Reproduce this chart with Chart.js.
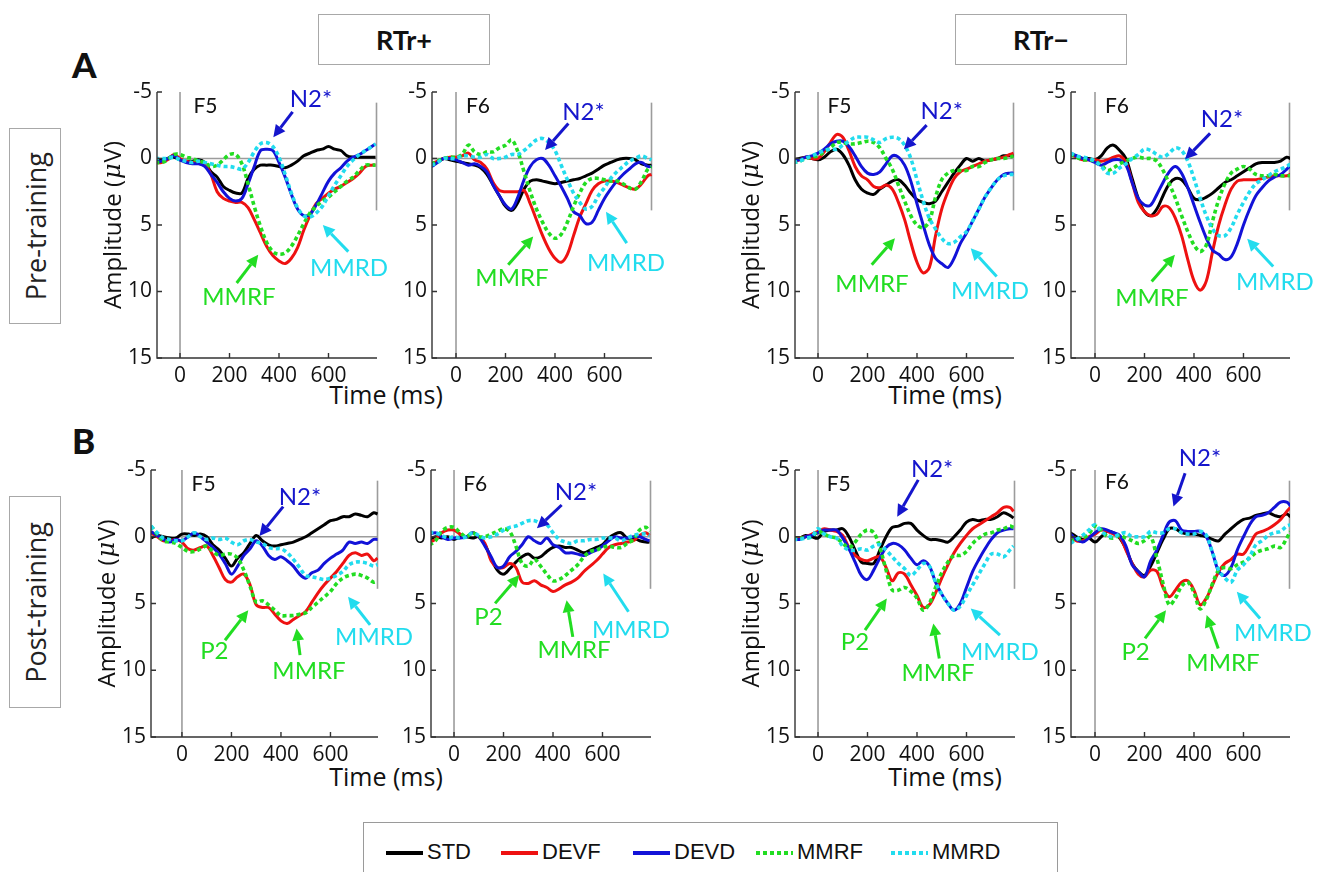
<!DOCTYPE html>
<html><head><meta charset="utf-8">
<script src="https://cdn.jsdelivr.net/npm/chart.js@4.4.1/dist/chart.umd.min.js"></script>
<style>
html,body{margin:0;padding:0;background:#fff}
body{width:1320px;height:872px;position:relative;overflow:hidden;font-family:Lato,'Open Sans',sans-serif;color:#111}
.abs{position:absolute}
canvas{position:absolute}
.hbox{position:absolute;border:1.5px solid #a8a8a8;display:flex;align-items:center;justify-content:center;font-weight:bold;font-size:27px;font-family:Lato,sans-serif;box-sizing:border-box}
.vbox{position:absolute;border:1.5px solid #a8a8a8;display:flex;align-items:center;justify-content:center;box-sizing:border-box}
.vbox span{writing-mode:vertical-rl;transform:rotate(180deg);font-family:'Open Sans',sans-serif;font-size:27px;color:#222}
.tlabel{position:absolute;width:200px;text-align:center;font-family:'Open Sans',sans-serif;font-size:25px;color:#111;line-height:30px}
.leg{position:absolute;left:363px;top:822px;width:695px;height:58px;border:1.5px solid #9a9a9a;box-sizing:border-box}
.li{position:absolute;top:28px;height:4px}
.lt{position:absolute;top:16px;font-family:'Liberation Sans Narrow','Liberation Sans',sans-serif;font-size:22px;line-height:26px;color:#111}
</style></head><body>
<script>
// ---------------- data ----------------
const TIME = [-125,-100,-75,-50,-25,0,25,50,75,100,125,150,175,200,225,250,275,300,325,350,375,400,425,450,475,500,525,550,575,600,625,650,675,700,725,750,775,790];
const SERIES = ['STD','DEVF','DEVD','MMRF','MMRD'];
const X_TICKS = [0,200,400,600];
const Y_TICKS = [-5,0,5,10,15];

// Pre-training, RTr+, F5
const pre_rp_f5_STD  = [0.2,0.2,0.1,0.0,-0.1,0.1,0.2,0.2,0.1,0.3,1.0,1.4,2.1,2.4,2.6,2.6,1.5,0.8,0.5,0.5,0.5,0.6,0.7,0.5,0.2,-0.2,-0.4,-0.6,-0.7,-0.9,-0.7,-0.6,-0.2,-0.1,-0.1,-0.1,-0.1,-0.1];
const pre_rp_f5_DEVF = [0.3,0.3,0.3,0.1,-0.3,0.0,0.2,0.3,0.3,0.4,1.2,2.5,3.0,3.2,3.3,3.3,3.7,4.6,5.6,6.6,7.3,7.7,7.9,7.5,6.7,5.4,4.3,3.4,3.0,2.6,2.3,2.1,1.8,1.5,1.1,0.6,0.5,0.5];
const pre_rp_f5_DEVD = [0.3,0.3,0.2,0.0,-0.2,0.1,0.3,0.4,0.4,0.6,1.2,1.8,2.5,3.0,3.2,3.0,1.9,0.6,-0.6,-0.7,-0.6,0.3,1.4,2.7,3.8,4.3,4.2,3.5,2.6,1.7,1.1,0.7,0.2,-0.1,-0.3,-0.6,-0.9,-1.1];
const pre_rp_f5_MMRF = [0.3,0.3,0.3,0.1,-0.3,-0.3,-0.1,0.0,0.2,0.3,0.6,0.5,0.1,-0.3,-0.3,0.4,1.9,3.6,5.1,6.3,7.0,7.2,7.1,6.6,5.8,4.9,4.1,3.6,3.2,2.9,2.5,2.1,1.7,1.4,0.9,0.5,0.5,0.5];
const pre_rp_f5_MMRD = [0.0,0.0,0.0,0.0,-0.1,0.1,0.2,0.3,0.2,0.3,0.4,0.5,0.6,0.6,0.7,0.8,0.3,-0.5,-1.1,-1.2,-0.9,-0.1,1.2,2.6,3.7,4.3,4.4,4.1,3.6,2.8,2.0,1.3,0.6,0.1,-0.3,-0.6,-0.9,-1.1];
// Pre-training, RTr+, F6
const pre_rp_f6_STD  = [0.5,0.5,0.3,0.0,0.1,0.2,0.3,0.4,0.5,0.7,1.2,2.0,2.8,3.6,3.9,3.3,2.3,1.7,1.6,1.7,1.8,1.9,1.8,1.7,1.6,1.5,1.3,1.1,0.8,0.5,0.3,0.1,0.0,0.0,0.1,0.4,0.5,0.5];
const pre_rp_f6_DEVF = [0.4,0.4,0.2,0.0,-0.1,-0.1,-0.2,-0.4,0.1,0.3,0.8,1.8,2.4,2.5,2.5,2.5,2.4,3.4,4.6,5.8,6.8,7.5,7.8,7.2,5.8,4.4,3.4,2.4,1.9,1.7,1.7,1.8,2.0,2.2,2.3,1.9,1.3,1.2];
const pre_rp_f6_DEVD = [0.6,0.6,0.3,0.0,0.0,0.1,0.3,0.5,0.4,0.6,1.0,2.0,2.8,3.5,3.8,2.9,1.6,0.6,0.1,0.0,0.5,1.3,2.1,3.0,4.0,4.3,4.9,4.8,3.9,3.0,2.3,1.7,1.2,0.8,0.4,0.3,0.6,0.6];
const pre_rp_f6_MMRF = [0.4,0.4,0.2,0.0,-0.1,-0.1,-0.3,-1.0,-0.5,-0.3,-0.5,-0.5,-0.8,-1.0,-1.4,-0.5,1.0,2.5,3.8,4.8,5.6,6.0,5.7,4.8,3.6,2.6,1.8,1.5,1.5,1.6,1.7,1.7,1.9,2.2,2.3,1.7,0.8,0.6];
const pre_rp_f6_MMRD = [0.5,0.5,0.3,0.0,0.0,0.0,-0.2,-0.2,-0.1,-0.1,-0.3,0.0,0.0,-0.1,-0.3,-0.3,-0.6,-1.0,-1.4,-1.5,-1.2,-0.6,0.5,1.6,2.6,3.3,3.8,3.6,2.8,2.2,1.5,1.0,0.6,0.2,0.0,-0.2,0.0,0.1];
// Pre-training, RTr-, F5
const pre_rm_f5_STD  = [0.1,0.1,0.0,-0.1,0.0,0.1,-0.1,-0.5,-0.7,-0.3,0.5,1.6,2.3,2.6,2.7,2.3,2.0,1.7,1.6,2.0,2.6,3.1,3.3,3.4,3.2,2.5,1.8,1.1,0.5,0.0,0.2,0.0,0.2,0.1,0.0,-0.2,-0.2,-0.2];
const pre_rm_f5_DEVF = [0.2,0.2,0.1,-0.1,0.0,0.0,-0.5,-1.2,-1.8,-1.6,-0.6,0.6,1.3,1.6,2.1,2.2,2.0,2.3,3.3,4.6,6.3,7.8,8.6,8.2,5.8,3.8,2.5,1.5,1.0,0.8,0.6,0.4,0.2,0.1,0.0,-0.1,-0.3,-0.4];
const pre_rm_f5_DEVD = [0.1,0.1,0.1,-0.1,-0.2,-0.4,-0.7,-1.1,-1.3,-1.3,-0.9,-0.2,0.6,1.1,1.2,1.0,0.4,-0.2,-0.1,0.5,1.7,3.4,5.0,6.5,7.5,7.9,8.2,7.5,6.4,5.6,4.7,3.8,2.9,2.2,1.6,1.2,1.1,1.1];
const pre_rm_f5_MMRF = [0.3,0.3,0.2,0.0,-0.1,-0.2,-0.5,-0.8,-1.2,-1.2,-1.1,-1.1,-1.2,-1.3,-1.2,-0.8,0.0,0.8,2.0,3.2,4.3,5.0,5.2,4.7,2.9,1.6,1.1,0.9,0.9,0.9,0.6,0.6,0.3,0.1,0.0,0.0,-0.1,-0.2];
const pre_rm_f5_MMRD = [0.3,0.3,0.2,0.0,-0.2,-0.4,-0.6,-0.7,-0.7,-1.0,-1.3,-1.6,-1.6,-1.6,-1.4,-1.2,-1.5,-1.6,-1.5,-1.0,0.0,1.6,3.2,4.5,5.3,6.0,6.4,6.3,5.9,5.5,4.7,3.8,2.9,2.2,1.6,1.3,1.2,1.2];
// Pre-training, RTr-, F6
const pre_rm_f6_STD  = [-0.3,-0.3,-0.2,0.0,0.0,0.1,-0.2,-0.8,-1.0,-0.6,0.0,1.5,3.0,4.0,4.3,3.8,2.8,1.9,1.5,1.6,2.2,3.0,3.1,2.9,2.6,2.2,1.8,1.6,1.3,1.0,0.7,0.4,0.3,0.3,0.3,0.2,-0.1,0.0];
const pre_rm_f6_DEVF = [-0.3,-0.3,-0.1,0.1,0.1,0.1,0.2,0.1,-0.1,-0.2,0.3,1.8,3.3,4.0,4.3,4.2,3.6,3.7,4.5,5.8,7.6,9.2,9.9,9.2,7.0,5.0,3.5,2.3,1.7,1.6,1.6,1.6,1.5,1.4,1.3,1.3,1.3,1.2];
const pre_rm_f6_DEVD = [-0.4,-0.4,-0.2,0.0,0.1,0.3,0.5,0.3,0.1,0.1,0.5,1.8,3.0,3.5,3.5,2.7,1.8,1.0,0.6,1.1,2.2,3.5,4.8,6.0,6.9,7.2,7.6,7.4,6.4,5.0,3.8,2.8,2.2,1.7,1.4,1.2,0.8,0.5];
const pre_rm_f6_MMRF = [-0.3,-0.3,-0.1,0.1,0.1,0.2,0.5,0.9,0.7,0.4,0.2,0.0,-0.1,0.0,0.0,0.2,0.9,1.9,3.0,4.3,5.5,6.5,7.0,6.5,4.7,3.1,1.9,1.1,0.8,0.6,0.8,1.2,1.3,1.3,1.2,1.3,1.3,1.3];
const pre_rm_f6_MMRD = [-0.4,-0.4,-0.2,-0.1,0.0,0.2,0.6,1.1,1.1,0.7,0.4,0.0,-0.3,-0.7,-0.6,-0.3,-0.1,-0.4,-0.8,-0.6,0.2,1.5,3.0,4.3,5.3,5.8,5.8,5.2,4.2,3.3,2.5,1.9,1.6,1.3,1.0,0.8,0.6,0.4];
// Post-training, RTr+, F5
const post_rp_f5_STD  = [0.1,-0.1,0.0,0.1,0.1,-0.2,-0.2,-0.1,-0.2,0.0,0.6,1.0,1.6,2.2,1.6,1.2,0.5,-0.1,0.3,0.6,0.7,0.6,0.5,0.4,0.2,0.0,-0.3,-0.6,-0.9,-1.2,-1.3,-1.5,-1.5,-1.7,-1.6,-1.5,-1.8,-1.7];
const post_rp_f5_DEVF = [-0.3,0.0,0.3,0.3,0.2,0.4,0.9,1.0,0.8,0.7,1.4,2.3,3.2,3.4,3.0,2.8,3.6,5.1,5.3,5.3,5.8,6.3,6.5,6.2,5.9,5.6,4.9,4.2,3.6,3.1,2.6,2.0,1.4,1.2,1.4,1.3,1.8,1.6];
const post_rp_f5_DEVD = [-0.4,-0.1,0.2,0.4,0.2,0.3,0.0,-0.3,0.0,0.4,0.8,1.3,2.0,2.8,2.2,1.4,0.9,0.3,0.7,1.4,1.7,1.5,1.8,2.2,2.8,3.1,2.7,2.5,2.0,1.6,1.3,1.0,0.4,0.5,0.4,0.5,0.2,0.2];
const post_rp_f5_MMRF = [-0.8,-0.2,0.3,0.4,0.5,0.8,1.1,1.1,0.9,0.7,1.1,1.4,1.3,1.3,1.6,2.5,3.7,4.9,4.8,5.1,5.5,5.9,5.9,5.9,5.8,5.7,5.3,4.9,4.5,4.1,3.5,3.1,2.9,2.8,2.9,3.1,3.4,3.3];
const post_rp_f5_MMRD = [-0.8,-0.3,0.1,0.2,0.3,0.3,0.0,-0.3,0.0,0.2,0.1,0.2,0.1,0.4,0.6,0.3,0.2,0.4,0.5,0.8,0.9,0.9,1.2,1.7,2.3,2.9,3.0,3.1,3.2,3.1,2.9,2.6,2.1,1.9,1.9,2.0,2.2,2.1];
// Post-training, RTr+, F6
const post_rp_f6_STD  = [0.2,0.2,0.0,0.1,0.0,0.2,0.0,0.0,0.1,0.0,0.6,1.6,2.5,2.8,2.4,1.9,1.5,1.3,1.6,1.5,1.1,0.8,0.7,0.8,0.8,1.0,1.2,1.0,0.8,0.6,0.1,-0.2,-0.3,0.1,0.1,0.3,0.4,0.4];
const post_rp_f6_DEVF = [0.4,0.4,0.2,-0.3,-0.5,-0.5,-0.2,0.0,-0.3,0.0,0.5,1.8,2.3,2.3,2.0,2.3,3.4,3.5,3.3,3.6,3.8,4.1,3.9,3.6,3.4,3.1,2.6,2.2,1.8,1.3,0.8,0.6,0.5,0.4,0.3,-0.1,-0.3,-0.1];
const post_rp_f6_DEVD = [-0.2,-0.2,-0.3,0.0,0.2,0.1,0.1,0.0,-0.3,0.0,0.7,1.5,2.3,2.2,1.5,1.1,0.6,0.0,0.3,0.5,0.1,0.6,0.8,1.2,1.2,1.3,1.4,1.2,1.0,0.7,0.3,0.0,0.1,0.1,0.0,0.0,0.2,0.3];
const post_rp_f6_MMRF = [0.6,0.6,0.3,-0.4,-0.7,-0.7,-0.3,0.0,-0.3,0.0,0.0,-0.2,-0.4,-0.6,-0.4,0.7,2.0,2.2,1.7,2.2,2.8,3.3,3.2,2.9,2.5,2.1,1.5,1.1,1.0,0.8,0.7,0.8,0.8,0.5,0.2,-0.5,-0.7,-0.4];
const post_rp_f6_MMRD = [-0.3,-0.3,-0.3,-0.1,0.1,0.0,0.1,0.0,-0.3,-0.1,0.1,0.0,-0.2,-0.5,-0.7,-0.8,-1.0,-1.2,-1.2,-1.0,-0.9,-0.3,0.2,0.4,0.5,0.3,0.3,0.2,0.2,0.1,0.1,0.1,0.3,0.1,-0.1,-0.2,-0.2,-0.1];
// Post-training, RTr-, F5
const post_rm_f5_STD  = [0.1,0.1,0.1,-0.1,0.0,0.1,-0.4,-0.5,-0.5,-0.6,0.0,1.0,1.9,2.0,2.0,1.0,0.0,-0.7,-0.8,-1.0,-1.0,-0.5,-0.1,0.2,0.2,0.3,0.4,0.0,-0.5,-1.1,-1.3,-1.2,-1.3,-1.3,-1.5,-1.8,-1.6,-1.4];
const post_rm_f5_DEVF = [0.1,0.1,0.1,0.0,-0.2,-0.4,-0.6,-0.5,-0.4,-0.1,0.8,1.4,1.7,1.8,1.6,1.5,2.3,3.3,2.7,2.8,3.6,4.4,5.3,5.1,4.2,3.1,2.1,1.2,0.5,-0.1,-0.6,-0.9,-1.2,-1.5,-1.8,-2.2,-2.2,-1.9];
const post_rm_f5_DEVD = [0.2,0.2,0.2,0.0,-0.1,-0.3,-0.5,-0.5,-0.5,0.1,0.9,1.9,2.9,3.2,2.5,1.6,0.8,0.5,0.6,1.0,1.6,2.1,1.8,2.2,3.4,4.3,5.0,5.5,5.0,3.8,2.6,1.7,0.9,0.2,-0.3,-0.5,-0.6,-0.6];
const post_rm_f5_MMRF = [0.1,0.1,0.1,0.1,0.0,-0.4,-0.2,0.0,0.1,0.5,0.8,0.4,-0.2,-0.5,-0.3,0.8,2.5,4.0,4.0,3.8,4.1,4.6,5.5,5.0,3.8,2.7,1.9,1.4,1.4,1.1,0.5,0.1,-0.2,-0.3,-0.5,-0.6,-0.8,-0.7];
const post_rm_f5_MMRD = [0.2,0.2,0.2,0.1,0.0,-0.6,-0.2,0.0,0.1,0.7,1.0,1.0,0.9,1.0,0.7,0.6,1.0,1.5,2.0,2.4,2.9,2.5,2.0,2.2,3.4,4.3,5.0,5.5,5.2,4.4,3.6,2.8,2.0,1.3,1.3,1.5,1.0,0.7];
// Post-training, RTr-, F6
const post_rm_f6_STD  = [-0.3,-0.3,0.0,0.2,0.1,0.4,0.0,-0.4,-0.3,0.1,0.9,2.0,2.6,2.9,2.2,1.2,0.2,-0.6,-0.6,-0.3,-0.2,-0.2,-0.1,0.0,0.2,0.3,-0.2,-0.6,-1.0,-1.3,-1.4,-1.6,-1.7,-1.8,-1.6,-1.5,-1.7,-1.5];
const post_rm_f6_DEVF = [-0.1,-0.1,0.3,0.3,0.0,-0.2,-0.5,-0.4,-0.2,0.0,1.0,2.0,2.8,3.0,2.5,2.6,3.8,4.5,4.0,3.4,3.3,4.0,5.1,4.6,3.6,2.6,2.0,1.7,1.3,1.3,0.6,-0.2,-0.4,-0.6,-0.9,-1.3,-1.9,-2.2];
const post_rm_f6_DEVD = [-0.2,-0.2,0.2,0.4,0.1,-0.3,-0.6,-0.5,-0.3,-0.1,0.7,2.1,2.6,3.0,1.8,1.0,-0.1,-1.1,-1.2,-0.5,-0.4,-0.4,-0.4,0.0,1.2,2.6,2.9,2.3,1.0,0.0,-0.9,-1.5,-1.6,-1.8,-2.2,-2.6,-2.6,-2.3];
const post_rm_f6_MMRF = [0.3,0.3,0.2,0.1,-0.2,-0.8,-0.5,0.0,0.1,-0.1,0.1,0.3,0.5,0.3,0.0,1.6,3.5,5.1,4.6,3.7,3.4,4.2,5.4,4.7,3.5,2.5,2.3,2.4,2.1,1.9,1.6,1.2,1.0,0.9,0.7,0.8,0.1,-0.4];
const post_rm_f6_MMRD = [0.5,0.5,0.2,-0.1,-0.5,-0.9,-0.4,-0.1,0.0,-0.2,-0.3,0.0,0.0,0.0,-0.4,-0.3,-0.3,-0.6,-0.6,-0.3,-0.2,-0.2,-0.4,-0.1,1.2,2.5,3.1,3.4,2.5,2.1,1.5,0.6,0.3,-0.1,-0.3,-0.4,-0.8,-0.9];

// ---------------- styles ----------------
const LINE_COLORS = ['#000000','#ee1111','#1212d8','#22dd22','#22dcee'];
const LINE_DASH = [[],[],[],[4,3],[4,3]];
const C_BLUE='#1515cc', C_GREEN='#22dd22', C_CYAN='#22dcee';

// ---------------- panels (layout + annotations) ----------------
const PANELS = [
 {left:157,right:377,top:92,bottom:358,xmin:-93,xmax:796,ylab:true,elec:'F5',elx:54,ely:-3.9,
  series:[pre_rp_f5_STD,pre_rp_f5_DEVF,pre_rp_f5_DEVD,pre_rp_f5_MMRF,pre_rp_f5_MMRD],
  notes:[['N2*',529,-4.45,C_BLUE,[455,-3.5,377,-1.6]],['MMRF',238,10.4,C_GREEN,[229,9.36,316,7.24]],['MMRD',683,8.25,C_CYAN,[680,7.0,577,5.0]]]},
 {left:432,right:652,top:92,bottom:358,xmin:-97,xmax:792,ylab:false,elec:'F6',elx:40,ely:-3.9,
  series:[pre_rp_f6_STD,pre_rp_f6_DEVF,pre_rp_f6_DEVD,pre_rp_f6_MMRF,pre_rp_f6_MMRD],
  notes:[['N2*',515,-3.5,C_BLUE,[454,-2.64,360,-0.64]],['MMRF',226,8.97,C_GREEN,[211,7.99,312,5.86]],['MMRD',687,7.84,C_CYAN,[690,6.36,606,4.0]]]},
 {left:795,right:1014,top:92,bottom:358,xmin:-93,xmax:792,ylab:true,elec:'F5',elx:38,ely:-3.9,
  series:[pre_rm_f5_STD,pre_rm_f5_DEVF,pre_rm_f5_DEVD,pre_rm_f5_MMRF,pre_rm_f5_MMRD],
  notes:[['N2*',500,-3.56,C_BLUE,[439,-2.51,347,-0.69]],['MMRF',218,9.49,C_GREEN,[217,7.99,311,5.99]],['MMRD',695,10.0,C_CYAN,[722,8.87,617,6.74]]]},
 {left:1071,right:1290,top:92,bottom:358,xmin:-97,xmax:788,ylab:false,elec:'F6',elx:40,ely:-3.9,
  series:[pre_rm_f6_STD,pre_rm_f6_DEVF,pre_rm_f6_DEVD,pre_rm_f6_MMRF,pre_rm_f6_MMRD],
  notes:[['N2*',513,-2.96,C_BLUE,[465,-1.89,364,0.06]],['MMRF',230,10.54,C_GREEN,[229,9.24,323,7.24]],['MMRD',727,9.34,C_CYAN,[720,8.12,615,6.04]]]},
 {left:151,right:378,top:470,bottom:737,xmin:-125,xmax:792,ylab:true,elec:'F5',elx:39,ely:-3.96,
  series:[post_rp_f5_STD,post_rp_f5_DEVF,post_rp_f5_DEVD,post_rp_f5_MMRF,post_rp_f5_MMRD],
  notes:[['N2*',477,-2.98,C_BLUE,[409,-2.26,313,-0.06]],['P2',131,8.57,C_GREEN,[174,7.75,268,5.5]],['MMRF',513,10.07,C_GREEN,[477,8.87,463,6.87]],['MMRD',776,7.5,C_CYAN,[760,6.6,671,4.5]]]},
 {left:431,right:651,top:470,bottom:737,xmin:-93,xmax:796,ylab:false,elec:'F6',elx:37,ely:-3.96,
  series:[post_rp_f6_STD,post_rp_f6_DEVF,post_rp_f6_DEVD,post_rp_f6_MMRF,post_rp_f6_MMRD],
  notes:[['N2*',493,-3.36,C_BLUE,[435,-2.38,335,-0.63]],['P2',139,6.02,C_GREEN,[166,4.99,264,2.87]],['MMRF',485,8.5,C_GREEN,[480,7.5,455,4.75]],['MMRD',715,7.0,C_CYAN,[705,5.62,603,2.75]]]},
 {left:795,right:1015,top:470,bottom:737,xmin:-93,xmax:796,ylab:true,elec:'F5',elx:35,ely:-3.96,
  series:[post_rm_f5_STD,post_rm_f5_DEVF,post_rm_f5_DEVD,post_rm_f5_MMRF,post_rm_f5_MMRD],
  notes:[['N2*',461,-5.08,C_BLUE,[405,-4.26,320,-1.5]],['P2',149,7.93,C_GREEN,[190,7.0,278,4.62]],['MMRF',485,10.22,C_GREEN,[490,9.12,466,6.5]],['MMRD',735,8.66,C_CYAN,[735,7.37,617,5.37]]]},
 {left:1071,right:1290,top:470,bottom:737,xmin:-97,xmax:788,ylab:false,elec:'F6',elx:40,ely:-4.1,
  series:[post_rm_f6_STD,post_rm_f6_DEVF,post_rm_f6_DEVD,post_rm_f6_MMRF,post_rm_f6_MMRD],
  notes:[['N2*',424,-5.9,C_BLUE,[364,-4.76,317,-2.26]],['P2',164,8.66,C_GREEN,[202,7.62,287,5.5]],['MMRF',517,9.47,C_GREEN,[498,8.37,451,5.87]],['MMRD',719,7.22,C_CYAN,[667,6.12,573,4.12]]]}
];

// ---------------- helpers ----------------
function arrow(ctx,x1,y1,x2,y2,color){
  const ang=Math.atan2(y2-y1,x2-x1), L=12, W=6;
  const bx=x2-L*Math.cos(ang), by=y2-L*Math.sin(ang);
  ctx.save();
  ctx.strokeStyle=color; ctx.fillStyle=color; ctx.lineWidth=3; ctx.lineCap='butt';
  ctx.beginPath(); ctx.moveTo(x1,y1); ctx.lineTo(bx,by); ctx.stroke();
  ctx.beginPath(); ctx.moveTo(x2,y2);
  ctx.lineTo(bx+W*Math.sin(ang), by-W*Math.cos(ang));
  ctx.lineTo(bx-W*Math.sin(ang), by+W*Math.cos(ang));
  ctx.closePath(); ctx.fill();
  ctx.restore();
}

function framePlugin(p){
  return {
    id:'frame'+p.left,
    beforeDatasetsDraw(chart){
      const {ctx,chartArea:a,scales:{x,y}}=chart;
      ctx.save();
      ctx.strokeStyle='#9c9c9c'; ctx.lineWidth=1.6;
      const y0=y.getPixelForValue(0), x0=x.getPixelForValue(0);
      ctx.beginPath(); ctx.moveTo(a.left,y0); ctx.lineTo(a.right,y0); ctx.stroke();
      ctx.beginPath(); ctx.moveTo(x0,a.top); ctx.lineTo(x0,a.bottom); ctx.stroke();
      ctx.beginPath(); ctx.moveTo(a.right-0.5,y.getPixelForValue(-4.2)); ctx.lineTo(a.right-0.5,y.getPixelForValue(3.9)); ctx.stroke();
      ctx.restore();
    },
    afterDraw(chart){
      const {ctx,chartArea:a,scales:{x,y}}=chart;
      ctx.save();
      // axes
      ctx.strokeStyle='#333'; ctx.lineWidth=1.4;
      ctx.beginPath(); ctx.moveTo(a.left,a.top); ctx.lineTo(a.left,a.bottom); ctx.lineTo(a.right,a.bottom); ctx.stroke();
      ctx.beginPath();
      Y_TICKS.forEach(v=>{const yy=y.getPixelForValue(v); ctx.moveTo(a.left,yy); ctx.lineTo(a.left+5,yy);});
      X_TICKS.forEach(v=>{const xx=x.getPixelForValue(v); ctx.moveTo(xx,a.bottom); ctx.lineTo(xx,a.bottom-5);});
      ctx.stroke();
      // y axis title
      if(p.ylab){
        ctx.save();
        ctx.translate(a.left-43,(a.top+a.bottom)/2);
        ctx.rotate(-Math.PI/2);
        ctx.fillStyle='#111'; ctx.textBaseline='middle';
        const f1="24px 'Open Sans'", f2="italic 24px 'DejaVu Serif'";
        const parts=[['Amplitude (',f1],['\u03BC',f2],['V)',f1]];
        let tw=0; parts.forEach(([t,f])=>{ctx.font=f; tw+=ctx.measureText(t).width+(t==='\u03BC'?2:0);});
        let cx=-tw/2;
        parts.forEach(([t,f])=>{ctx.font=f; ctx.textAlign='left'; ctx.fillText(t,cx+(t==='\u03BC'?1:0),0); cx+=ctx.measureText(t).width+(t==='\u03BC'?2:0);});
        ctx.restore();
      }
      // electrode label
      ctx.fillStyle='#111'; ctx.font="21px Lato"; ctx.textAlign='left'; ctx.textBaseline='middle';
      ctx.fillText(p.elec, x.getPixelForValue(p.elx), y.getPixelForValue(p.ely));
      // annotations
      p.notes.forEach(([txt,tx,ty,col,ar])=>{
        ctx.fillStyle=col; ctx.font="24px Lato"; ctx.textAlign='center'; ctx.textBaseline='middle';
        ctx.fillText(txt, x.getPixelForValue(tx), y.getPixelForValue(ty));
        arrow(ctx, x.getPixelForValue(ar[0]), y.getPixelForValue(ar[1]), x.getPixelForValue(ar[2]), y.getPixelForValue(ar[3]), col);
      });
      ctx.restore();
    }
  };
}

const PADL=70, PADR=90, PADT=40, PADB=45;
function makePanel(p){
  const w=p.right-p.left, h=p.bottom-p.top;
  const cv=document.createElement('canvas');
  cv.width=w+PADL+PADR; cv.height=h+PADT+PADB;
  cv.style.left=(p.left-PADL)+'px'; cv.style.top=(p.top-PADT)+'px';
  cv.style.width=cv.width+'px'; cv.style.height=cv.height+'px';
  document.body.appendChild(cv);
  const order=[4,3,2,1,0];
  new Chart(cv,{
    type:'line',
    data:{datasets:SERIES.map((name,i)=>({
      label:name,
      data:TIME.map((t,j)=>({x:t,y:p.series[i][j]})),
      borderColor:LINE_COLORS[i], borderWidth:i>=3?3.6:3, borderDash:LINE_DASH[i],
      pointRadius:0, tension:0.35, fill:false, order:order[i], borderCapStyle:'butt'
    }))},
    options:{
      responsive:false, animation:false, devicePixelRatio:1,
      layout:{padding:{left:0,right:PADR,top:PADT,bottom:0}},
      plugins:{legend:{display:false},tooltip:{enabled:false}},
      events:[],
      scales:{
        x:{type:'linear',min:p.xmin,max:p.xmax,
           afterFit(s){s.height=PADB;},
           afterBuildTicks(s){s.ticks=X_TICKS.map(v=>({value:v}));},
           grid:{display:false,drawTicks:false}, border:{display:false},
           ticks:{color:'#111',font:{family:'Open Sans',size:21},padding:5,maxRotation:0,autoSkip:false}},
        y:{type:'linear',reverse:true,min:-5,max:15,
           afterFit(s){s.width=PADL;},
           afterBuildTicks(s){s.ticks=Y_TICKS.map(v=>({value:v}));},
           grid:{display:false,drawTicks:false}, border:{display:false},
           ticks:{color:'#111',font:{family:'Open Sans',size:21},padding:5,autoSkip:false}}
      }
    },
    plugins:[framePlugin(p)]
  });
}

// ---------------- static text ----------------
function div(cls,html,style){const d=document.createElement('div'); if(cls)d.className=cls; d.innerHTML=html; Object.assign(d.style,style); document.body.appendChild(d); return d;}
div('hbox','RTr+',{left:'318px',top:'14px',width:'172px',height:'51px'});
div('hbox','RTr\u2212',{left:'955px',top:'14px',width:'172px',height:'51px'});
div('abs','A',{left:'72px',top:'44px',fontFamily:'Lato',fontWeight:'900',fontSize:'35px',lineHeight:'40px'});
div('abs','B',{left:'72px',top:'420px',fontFamily:'Lato',fontWeight:'900',fontSize:'35px',lineHeight:'40px'});
div('vbox','<span>Pre-training</span>',{left:'9px',top:'128px',width:'52px',height:'196px'});
div('vbox','<span>Post-training</span>',{left:'9px',top:'496px',width:'52px',height:'212px'});
div('tlabel','Time (ms)',{left:'286px',top:'379px'});
div('tlabel','Time (ms)',{left:'845px',top:'379px'});
div('tlabel','Time (ms)',{left:'286px',top:'761px'});
div('tlabel','Time (ms)',{left:'845px',top:'761px'});

PANELS.forEach(makePanel);

// ---------------- legend ----------------
const LEG_X = [22,137,269,392,527];
const leg=div('leg','',{});
SERIES.forEach((name,i)=>{
  const l=document.createElement('div'); l.className='li';
  l.style.left=LEG_X[i]+'px'; l.style.width='37px';
  if(LINE_DASH[i].length){
    l.style.background=`repeating-linear-gradient(90deg, ${LINE_COLORS[i]} 0 4px, transparent 4px 7px)`;
  } else l.style.background=LINE_COLORS[i];
  leg.appendChild(l);
  const t=document.createElement('div'); t.className='lt'; t.textContent=name;
  t.style.left=(LEG_X[i]+41)+'px'; leg.appendChild(t);
});
</script>
</body></html>
